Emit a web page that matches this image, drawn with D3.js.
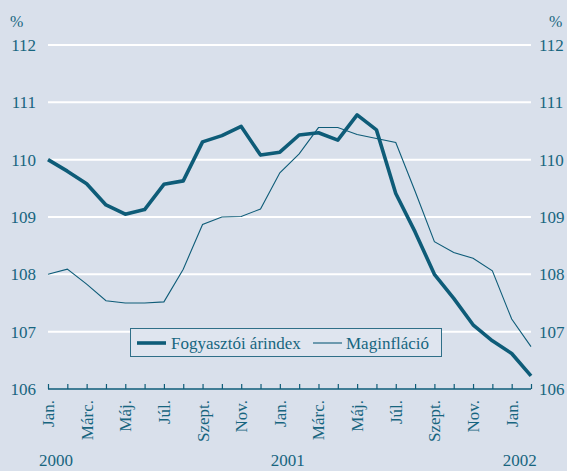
<!DOCTYPE html>
<html>
<head>
<meta charset="utf-8">
<script src="https://cdn.jsdelivr.net/npm/d3@7"></script>
<style>
	body { margin: 0; background: #d9e0eb; }
</style>
</head>
<body>
<div id="chart"></div>
<script>
// havi adatok, 2000. jan - 2002. feb
var months = ["Jan.", "Febr.", "Márc.", "Ápr.", "Máj.", "Jún.", "Júl.", "Aug.", "Szept.", "Okt.", "Nov.", "Dec.",
	"Jan.", "Febr.", "Márc.", "Ápr.", "Máj.", "Jún.", "Júl.", "Aug.", "Szept.", "Okt.", "Nov.", "Dec.",
	"Jan.", "Febr."];
var years = [{"label": "2000", "i": 0}, {"label": "2001", "i": 12}, {"label": "2002", "i": 24}];

var cpi = [110.0, 109.8, 109.58, 109.21, 109.05, 109.13, 109.57, 109.63, 110.31, 110.42, 110.58, 110.08,
	110.13, 110.43, 110.47, 110.34, 110.78, 110.52, 109.41, 108.74, 108.0, 107.58, 107.12, 106.84,
	106.62, 106.23];
var core = [108.0, 108.09, 107.83, 107.54, 107.5, 107.5, 107.52, 108.09, 108.87, 109.0, 109.01, 109.14,
	109.77, 110.1, 110.56, 110.56, 110.44, 110.37, 110.3, 109.45, 108.57, 108.38, 108.28, 108.06,
	107.22, 106.74];
var yTicks = [106, 107, 108, 109, 110, 111, 112];

var width = 567, height = 471;
var teal = "#0e5c78";
var txt = "#17657f";
var font = "'Liberation Serif', 'DejaVu Serif', 'Times New Roman', serif";

var svg = d3.select("#chart")
	.append("svg")
	.attr("width", width)
	.attr("height", height)
	.attr("font-family", font)
	.attr("fill", txt);

svg.append("rect")
	.attr("width", width)
	.attr("height", height)
	.attr("fill", "#d9e0eb");

var x = d3.scaleLinear().domain([0, months.length - 1]).range([48, 531]);
var y = d3.scaleLinear().domain([106, 112]).range([389, 45]);

// vízszintes rácsvonalak
svg.selectAll("line.grid")
	.data(yTicks.slice(1))
	.enter().append("line")
	.attr("class", "grid")
	.attr("x1", x(0))
	.attr("x2", x(months.length - 1))
	.attr("y1", function(d){ return y(d); })
	.attr("y2", function(d){ return y(d); })
	.style("stroke", "#ffffff")
	.style("stroke-width", 2);

// bal és jobb tengely feliratai
svg.selectAll("text.yl")
	.data(yTicks)
	.enter().append("text")
	.attr("class", "yl")
	.attr("x", 36)
	.attr("y", function(d){ return y(d); })
	.attr("dy", "0.35em")
	.attr("text-anchor", "end")
	.style("font-size", "17px")
	.text(function(d){ return d; });

svg.selectAll("text.yr")
	.data(yTicks)
	.enter().append("text")
	.attr("class", "yr")
	.attr("x", 539)
	.attr("y", function(d){ return y(d); })
	.attr("dy", "0.35em")
	.style("font-size", "17px")
	.text(function(d){ return d; });

svg.append("text").attr("x", 10).attr("y", 27).style("font-size", "16px").text("%");
svg.append("text").attr("x", 549).attr("y", 27).style("font-size", "16px").text("%");

// x tengely
var xAxis = d3.axisTop(x)
	.tickValues(d3.range(months.length))
	.tickSize(5)
	.tickFormat("");

var gx = svg.append("g")
	.attr("transform", "translate(0," + y(106) + ")")
	.call(xAxis);
gx.select(".domain").attr("stroke", teal).attr("stroke-width", 1.5).attr("d", "M" + x(0) + ",0H" + x(months.length - 1));
gx.selectAll(".tick line").attr("stroke", teal).attr("stroke-width", 1.2);

svg.selectAll("text.month")
	.data(months)
	.enter().append("text")
	.filter(function(d, i){ return i % 2 === 0; })
	.attr("class", "month")
	.attr("transform", function(d, i){ return "translate(" + x(i * 2) + ",400) rotate(-90)"; })
	.attr("dy", "0.35em")
	.attr("text-anchor", "end")
	.style("font-size", "17px")
	.text(function(d){ return d; });

svg.selectAll("text.year")
	.data(years)
	.enter().append("text")
	.attr("class", "year")
	.attr("x", function(d){ return x(d.i) + 8; })
	.attr("y", 466)
	.attr("text-anchor", "middle")
	.style("font-size", "17px")
	.text(function(d){ return d.label; });

// vonalak
var line = d3.line()
	.x(function(d, i){ return x(i); })
	.y(function(d){ return y(d); });

svg.append("path")
	.datum(core)
	.attr("d", line)
	.style("fill", "none")
	.style("stroke", teal)
	.style("stroke-width", 1.1);

svg.append("path")
	.datum(cpi)
	.attr("d", line)
	.style("fill", "none")
	.style("stroke", teal)
	.style("stroke-width", 3.6)
	.style("stroke-linejoin", "round");

// jelmagyarázat
var legend = svg.append("g");
legend.append("rect")
	.attr("x", 130.5)
	.attr("y", 328.5)
	.attr("width", 311)
	.attr("height", 28)
	.style("fill", "#dfe5ef")
	.style("stroke", "#2f6f88")
	.style("stroke-width", 1);
legend.append("line")
	.attr("x1", 137).attr("x2", 166).attr("y1", 343).attr("y2", 343)
	.style("stroke", teal).style("stroke-width", 3.6);
legend.append("text")
	.attr("x", 171).attr("y", 343).attr("dy", "0.35em")
	.style("font-size", "17px")
	.text("Fogyasztói árindex");
legend.append("line")
	.attr("x1", 313).attr("x2", 342).attr("y1", 343).attr("y2", 343)
	.style("stroke", teal).style("stroke-width", 1.1);
legend.append("text")
	.attr("x", 346).attr("y", 343).attr("dy", "0.35em")
	.style("font-size", "17px")
	.text("Maginfláció");
</script>
</body>
</html>
